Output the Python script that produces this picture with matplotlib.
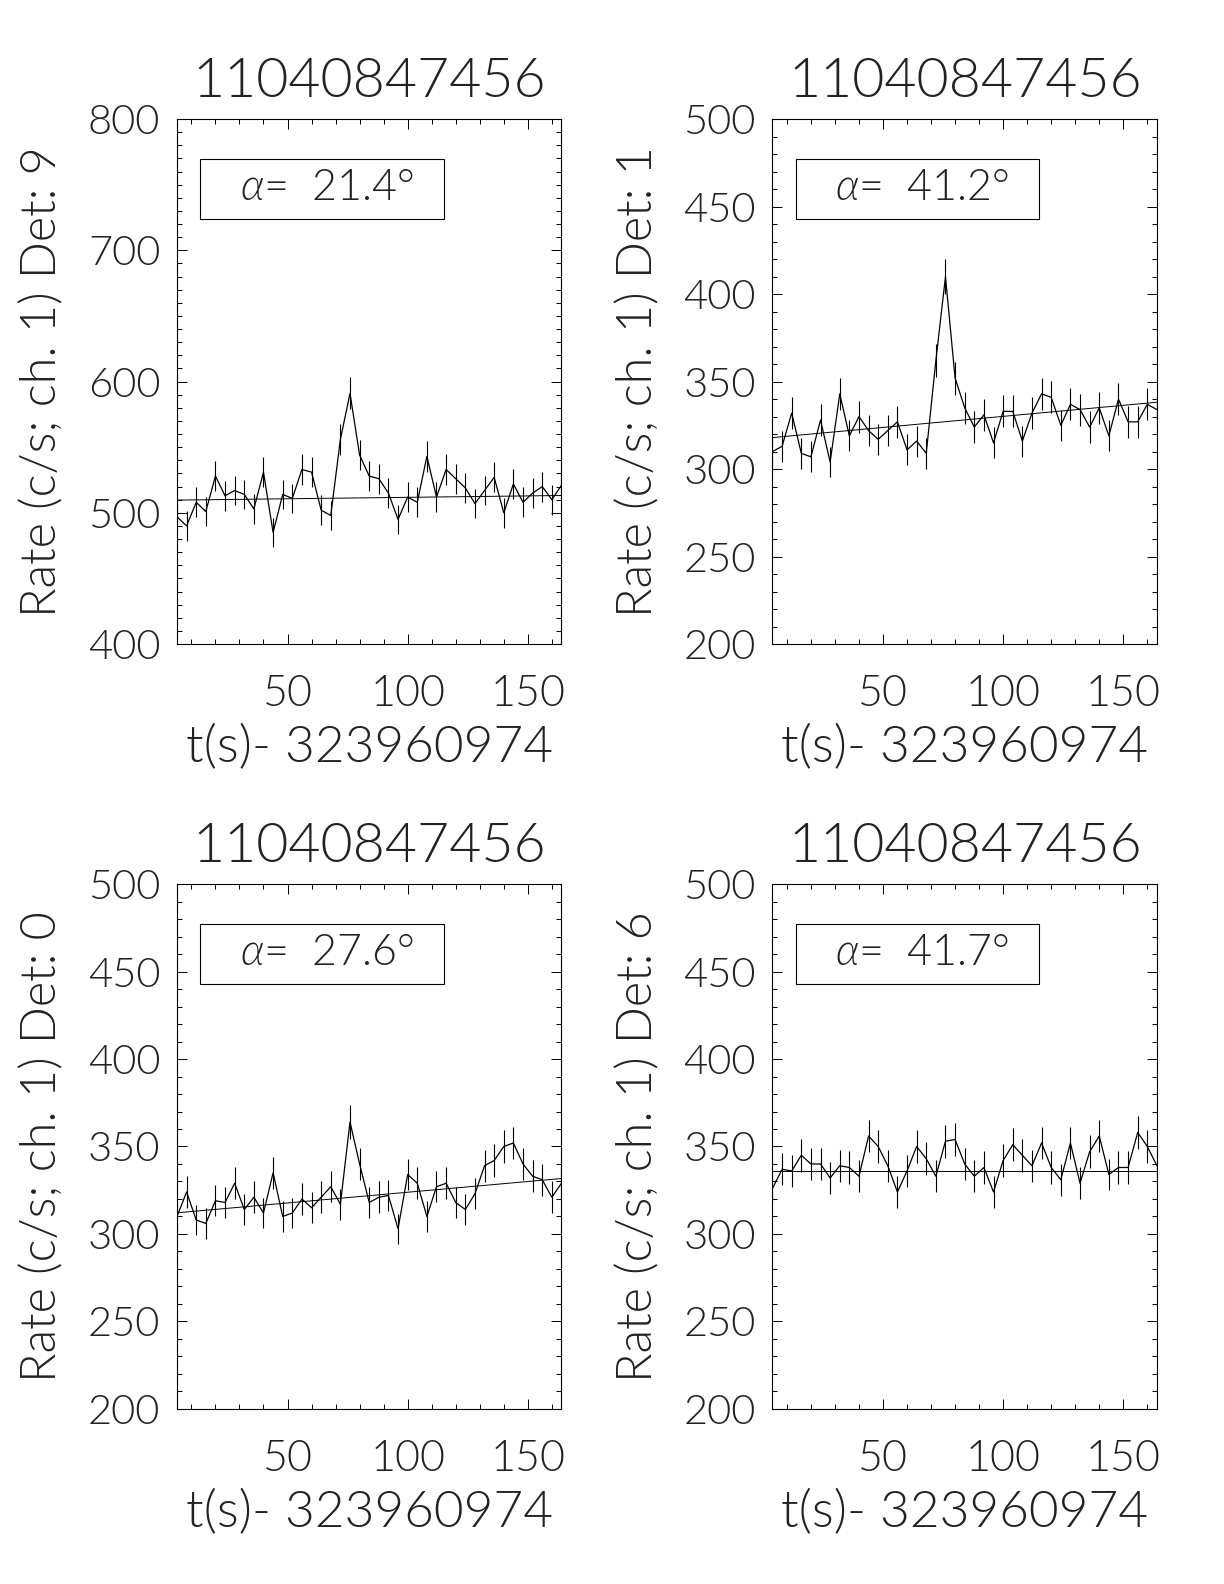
import numpy as np
import matplotlib
matplotlib.use("Agg")
import matplotlib.pyplot as plt
from matplotlib.patches import Rectangle
from matplotlib.ticker import MultipleLocator

plt.rcParams["font.family"] = ["Lato", "DejaVu Sans"]
plt.rcParams["font.weight"] = 300
plt.rcParams["axes.titleweight"] = 300
plt.rcParams["axes.labelweight"] = 300
plt.rcParams["mathtext.fontset"] = "custom"
plt.rcParams["mathtext.it"] = "Lato:italic"
plt.rcParams["text.color"] = "#222222"

# time bins (s) after 323960974
t = np.arange(4, 168, 4)

# Det 9
rate_d9 = [497, 490, 508, 501, 528, 513, 517, 514, 503, 531, 485, 514, 511, 533, 531, 502, 498, 556, 591, 544, 528,
           526, 515, 495, 512, 508, 543, 512, 533, 526, 519, 507, 517, 527, 500, 522, 508, 515, 520, 510, 521]
err_d9 = [11.1, 11.1, 11.3, 11.2, 11.5, 11.3, 11.4, 11.3, 11.2, 11.5, 11.0, 11.3, 11.3, 11.5, 11.5, 11.2, 11.2, 11.8,
          12.2, 11.7, 11.5, 11.5, 11.3, 11.1, 11.3, 11.3, 11.7, 11.3, 11.5, 11.5, 11.4, 11.3, 11.4, 11.5, 11.2, 11.4,
          11.3, 11.3, 11.4, 11.3, 11.4]
fit_d9 = [509.7, 513.2]

# Det 1
rate_d1 = [310, 313, 332, 309, 307, 328, 304, 343, 319, 330, 322, 317, 322, 327, 311, 316, 309, 362, 410, 352, 335,
           324, 331, 315, 333, 333, 316, 332, 343, 341, 325, 337, 334, 324, 335, 319, 340, 327, 327, 337, 334]
err_d1 = [8.8, 8.8, 9.1, 8.8, 8.8, 9.1, 8.7, 9.3, 8.9, 9.1, 9.0, 8.9, 9.0, 9.0, 8.8, 8.9, 8.8, 9.5, 10.1, 9.4, 9.2,
          9.0, 9.1, 8.9, 9.1, 9.1, 8.9, 9.1, 9.3, 9.2, 9.0, 9.2, 9.1, 9.0, 9.2, 8.9, 9.2, 9.0, 9.0, 9.2, 9.1]
fit_d1 = [318.0, 338.2]

# Det 0
rate_d0 = [310, 324, 308, 306, 319, 318, 329, 314, 321, 312, 335, 310, 312, 320, 315, 321, 327, 317, 364, 340, 318,
           321, 322, 303, 334, 329, 310, 327, 329, 318, 314, 323, 339, 342, 350, 352, 340, 333, 331, 321, 329]
err_d0 = [8.8, 9.0, 8.8, 8.7, 8.9, 8.9, 9.1, 8.9, 9.0, 8.8, 9.2, 8.8, 8.8, 8.9, 8.9, 9.0, 9.0, 8.9, 9.5, 9.2, 8.9,
          9.0, 9.0, 8.7, 9.1, 9.1, 8.8, 9.0, 9.1, 8.9, 8.9, 9.0, 9.2, 9.2, 9.4, 9.4, 9.2, 9.1, 9.1, 9.0, 9.1]
fit_d0 = [312.1, 331.7]

# Det 6
rate_d6 = [326, 337, 336, 345, 340, 340, 332, 339, 338, 333, 356, 350, 339, 324, 336, 350, 343, 333, 353, 354, 340,
           333, 338, 324, 342, 351, 345, 339, 352, 338, 331, 352, 329, 347, 356, 334, 338, 338, 358, 350, 339]
err_d6 = [9.0, 9.2, 9.2, 9.3, 9.2, 9.2, 9.1, 9.2, 9.2, 9.1, 9.4, 9.4, 9.2, 9.0, 9.2, 9.4, 9.3, 9.1, 9.4, 9.4, 9.2,
          9.1, 9.2, 9.0, 9.2, 9.4, 9.3, 9.2, 9.4, 9.2, 9.1, 9.4, 9.1, 9.3, 9.4, 9.1, 9.2, 9.2, 9.5, 9.4, 9.2]
fit_d6 = [336.1, 336.1]

title = "11040847456"
xlab = "t(s)- 323960974"
panels = [
    ("9", rate_d9, err_d9, fit_d9, "21.4", (400, 800), 100),
    ("1", rate_d1, err_d1, fit_d1, "41.2", (200, 500), 50),
    ("0", rate_d0, err_d0, fit_d0, "27.6", (200, 500), 50),
    ("6", rate_d6, err_d6, fit_d6, "41.7", (200, 500), 50),
]

fig = plt.figure(figsize=(12.24, 15.84), dpi=100)
lefts = [0.1446, 0.6311, 0.1446, 0.6311]
bottoms = [0.5934, 0.5934, 0.1105, 0.1105]

for i, (det, rate, err, fit, alpha, ylim, ymaj) in enumerate(panels):
    ax = fig.add_axes([lefts[i], bottoms[i], 0.3141, 0.3314])
    ax.plot(t, rate, color="black", lw=0.9)
    ax.vlines(t, np.array(rate) - np.array(err), np.array(rate) + np.array(err), color="black", lw=0.8)
    ax.plot([t[0], t[-1]], fit, color="black", lw=0.7)
    ax.set_xlim(t[0], t[-1])
    ax.set_ylim(*ylim)
    ax.xaxis.set_major_locator(MultipleLocator(50))
    ax.xaxis.set_minor_locator(MultipleLocator(10))
    ax.yaxis.set_major_locator(MultipleLocator(ymaj))
    ax.yaxis.set_minor_locator(MultipleLocator(10))
    ax.tick_params(which="both", direction="in", top=True, right=True, width=0.7, labelcolor="#222222")
    ax.tick_params(which="major", length=7)
    ax.tick_params(which="minor", length=3.5)
    ax.tick_params(axis="x", which="major", pad=22, labelsize=31)
    ax.tick_params(axis="y", which="major", pad=12, labelsize=30)
    for s in ax.spines.values():
        s.set_linewidth(0.8)
    ax.set_title(title, fontsize=40, pad=16, color="#222222")
    ax.set_xlabel(xlab, fontsize=37, labelpad=8, color="#222222")
    ax.set_ylabel("Rate (c/s; ch. 1) Det: " + det, fontsize=35, labelpad=16, color="#222222")
    ax.add_patch(Rectangle((0.06, 0.81), 0.634, 0.114, transform=ax.transAxes,
                           fill=False, ec="black", lw=0.8))
    ax.text(0.39, 0.868, r"$\alpha$=  " + alpha + "\u00b0", transform=ax.transAxes,
            ha="center", va="center", fontsize=31)

fig.savefig("out.png", dpi=100)
